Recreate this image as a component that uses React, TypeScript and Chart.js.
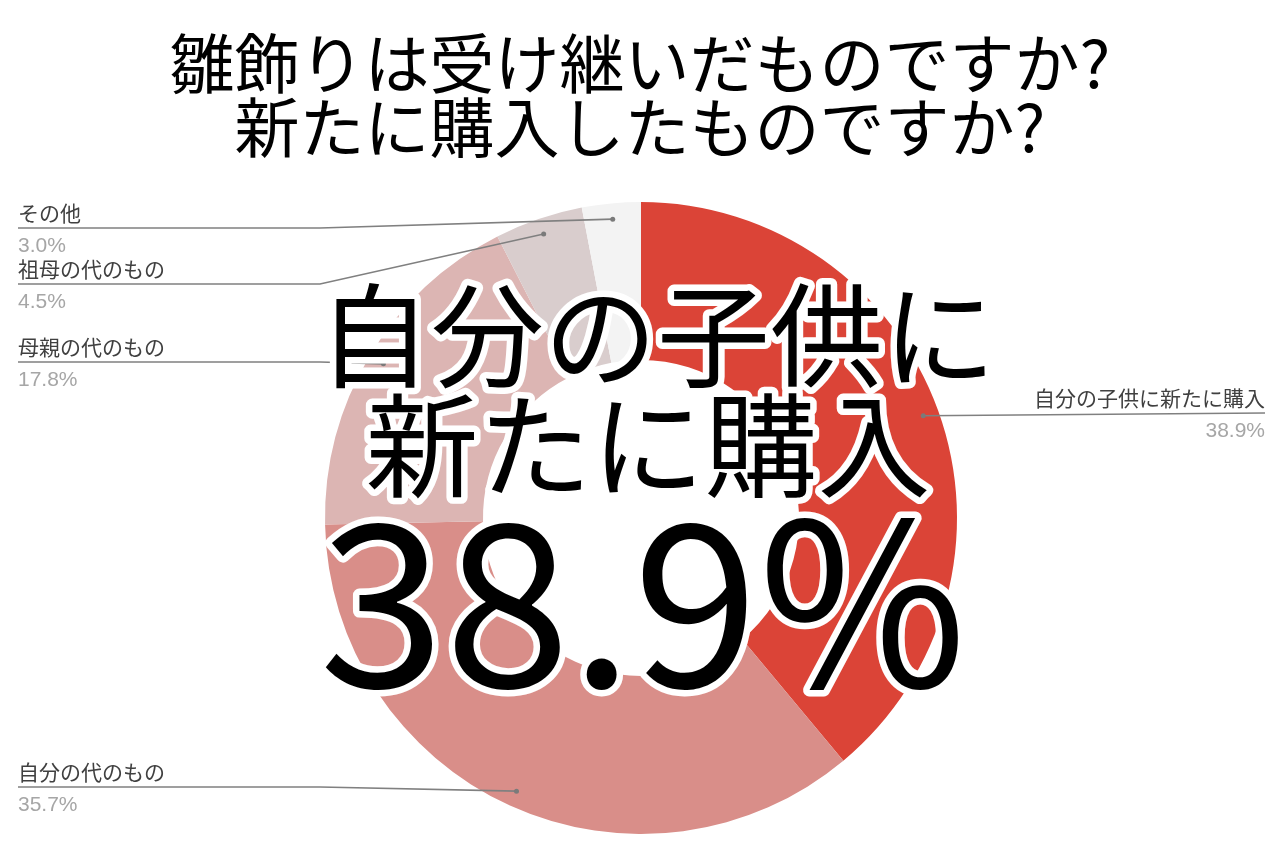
import React, { useRef, useEffect } from 'react';
import { Chart, registerables } from 'chart.js';

Chart.register(...registerables);

// answers, clockwise from 12 o'clock
const categories = ['自分の子供に新たに購入', '自分の代のもの', '母親の代のもの', '祖母の代のもの', 'その他'];
const shares = [38.9, 35.7, 17.8, 4.5, 3.0];
const sliceColors = ['#db4437', '#d98e89', '#dcb5b3', '#d9cdcd', '#f3f3f3'];

const titleLines = ['雛飾りは受け継いだものですか?', '新たに購入したものですか?'];
const headlineLines = ['自分の子供に', '新たに購入'];
const headlineValue = '38.9%';

// where each callout sits (side of the page, y of its underline)
const calloutLayout = [
  { side: 'right', lineY: 413 },
  { side: 'left', lineY: 787 },
  { side: 'left', lineY: 362 },
  { side: 'left', lineY: 284 },
  { side: 'left', lineY: 228 },
];

const CJK = '"Noto Sans CJK JP", "Noto Sans", sans-serif';

const overlayPlugin = {
  id: 'overlay',
  afterDraw(chart: any) {
    const ctx = chart.ctx as CanvasRenderingContext2D;
    const meta = chart.getDatasetMeta(0);
    ctx.save();

    // title
    ctx.fillStyle = '#000';
    ctx.textAlign = 'center';
    ctx.textBaseline = 'middle';
    ctx.font = `400 65px ${CJK}`;
    ctx.fillText(titleLines[0], 640, 63);
    ctx.fillText(titleLines[1], 640, 127);

    // callouts
    meta.data.forEach((arc: any, i: number) => {
      const p = arc.getProps(['x', 'y', 'startAngle', 'endAngle', 'outerRadius'], true);
      const mid = (p.startAngle + p.endAngle) / 2;
      const px = p.x + Math.cos(mid) * p.outerRadius * 0.95;
      const py = p.y + Math.sin(mid) * p.outerRadius * 0.95;
      const { side, lineY } = calloutLayout[i];
      const left = side === 'left';
      const edgeX = left ? 18 : 1265;

      ctx.strokeStyle = '#808080';
      ctx.lineWidth = 1.6;
      ctx.beginPath();
      ctx.moveTo(edgeX, lineY);
      if (left) ctx.lineTo(320, lineY);
      ctx.lineTo(px, py);
      ctx.stroke();
      ctx.fillStyle = '#7a7a7a';
      ctx.beginPath();
      ctx.arc(px, py, 2.5, 0, Math.PI * 2);
      ctx.fill();

      ctx.textAlign = left ? 'left' : 'right';
      ctx.textBaseline = 'alphabetic';
      ctx.fillStyle = '#404040';
      ctx.font = `400 21px ${CJK}`;
      ctx.fillText(categories[i], edgeX, lineY - 7);
      ctx.fillStyle = '#a6a6a6';
      ctx.font = '400 21px "Liberation Sans", Arial, sans-serif';
      ctx.fillText(shares[i].toFixed(1) + '%', edgeX, lineY + 24);
    });

    // big outlined headline over the ring
    const outlined = (text: string, x: number, y: number) => {
      ctx.lineJoin = 'round';
      ctx.lineWidth = 13;
      ctx.strokeStyle = '#fff';
      ctx.strokeText(text, x, y);
      ctx.fillStyle = '#000';
      ctx.fillText(text, x, y);
    };
    ctx.textAlign = 'center';
    ctx.textBaseline = 'middle';
    ctx.font = `400 113px ${CJK}`;
    outlined(headlineLines[0], 657, 335);
    outlined(headlineLines[1], 648, 445);
    ctx.textBaseline = 'alphabetic';
    ctx.font = `400 226px ${CJK}`;
    outlined(headlineValue, 643, 687);

    ctx.restore();
  },
};

const App: React.FC = () => {
  const canvasRef = useRef<HTMLCanvasElement>(null);

  useEffect(() => {
    if (!canvasRef.current) return;
    const chart = new Chart(canvasRef.current, {
      type: 'doughnut',
      data: {
        labels: categories,
        datasets: [
          {
            data: shares,
            backgroundColor: sliceColors,
            borderWidth: 0,
            hoverOffset: 0,
            offset: 0,
          },
        ],
      },
      options: {
        responsive: true,
        maintainAspectRatio: false,
        animation: false,
        cutout: '50%',
        layout: { padding: { top: 202, bottom: 12, left: 325, right: 323 } },
        plugins: {
          legend: { display: false },
          tooltip: { enabled: false },
        },
      },
      plugins: [overlayPlugin],
    });
    return () => chart.destroy();
  }, []);

  return (
    <div style={{ position: 'absolute', left: 0, top: 0, width: 1280, height: 846, background: '#fff' }}>
      <canvas ref={canvasRef}></canvas>
    </div>
  );
};

export default App;
